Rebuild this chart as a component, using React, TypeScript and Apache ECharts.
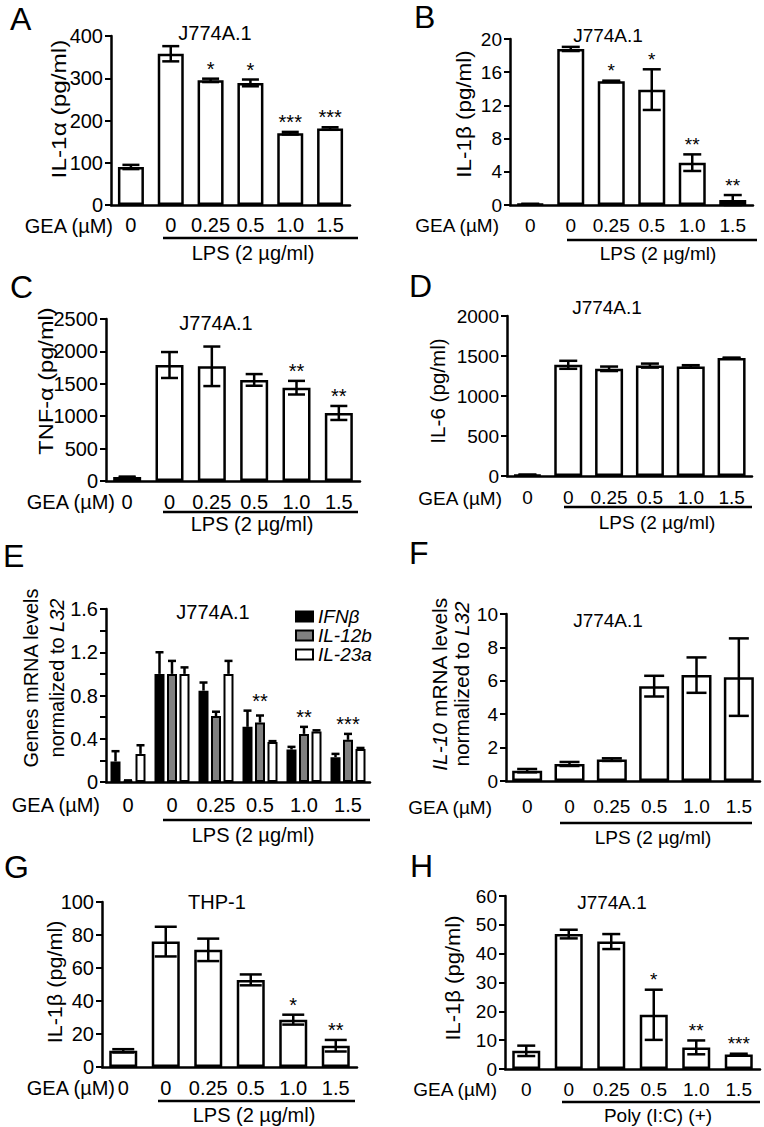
import React, { useEffect, useRef } from "react";
import * as echarts from "echarts";

// ---------------- DATA ----------------
const CATEGORIES = ["0", "0", "0.25", "0.5", "1.0", "1.5"];

const IL1A_MEAN = [90, 358, 295, 289, 170, 181];
const IL1A_SEM = [5, 18, 4, 8, 3, 3];
const IL1A_SIG = ["", "", "*", "*", "***", "***"];

const IL1B_MEAN = [0.1, 18.8, 14.9, 13.9, 5.1, 0.6];
const IL1B_SEM = [0.05, 0.25, 0.08, 2.45, 1.0, 0.6];
const IL1B_SIG = ["", "", "*", "*", "**", "**"];

const TNF_MEAN = [62, 1790, 1770, 1560, 1440, 1050];
const TNF_SEM = [6, 200, 305, 90, 105, 108];
const TNF_SIG = ["", "", "", "", "**", "**"];

const IL6_MEAN = [15, 1390, 1340, 1380, 1370, 1475];
const IL6_SEM = [3, 50, 28, 25, 15, 5];
const IL6_SIG = ["", "", "", "", "", ""];

const GENES = ["IFNβ", "IL-12b", "IL-23a"];
const IFNB_MEAN = [0.19, 1.0, 0.845, 0.51, 0.3, 0.23];
const IFNB_SEM = [0.095, 0.2, 0.075, 0.15, 0.025, 0.03];
const IL12B_MEAN = [0.01, 1.0, 0.61, 0.55, 0.445, 0.39];
const IL12B_SEM = [0.005, 0.12, 0.04, 0.065, 0.065, 0.055];
const IL23A_MEAN = [0.26, 1.0, 1.0, 0.37, 0.468, 0.305];
const IL23A_SEM = [0.08, 0.06, 0.12, 0.008, 0.01, 0.01];
const GENES_SIG = ["", "", "", "**", "**", "***"];

const IL10_MEAN = [0.62, 1.02, 1.28, 5.68, 6.34, 6.22];
const IL10_SEM = [0.1, 0.12, 0.08, 0.62, 1.06, 2.32];
const IL10_SIG = ["", "", "", "", "", ""];

const THP1_MEAN = [9.8, 76, 71, 52.8, 28.7, 12.9];
const THP1_SEM = [1, 9, 6.8, 3.3, 3, 3.5];
const THP1_SIG = ["", "", "", "", "*", "**"];

const POLY_MEAN = [6.3, 46.8, 44.2, 18.8, 7.5, 5.0];
const POLY_SEM = [1.8, 1.5, 2.6, 8.7, 2.4, 0.3];
const POLY_SIG = ["", "", "", "*", "**", "***"];

// ---------------- LAYOUT ----------------
const FONT = "Liberation Sans, Arial, Helvetica, sans-serif";
const LW = 2.5;

type Panel = {
  letter: string;
  letterPos: [number, number];
  title: string;
  titlePos: [number, number];
  yName: string[];
  yNamePos: [number, number][];
  yNameScale: number;
  grid: [number, number, number, number];
  yMax: number;
  yStep: number;
  fs: number;
  barW: number;
  cap: number;
  xMargin: number;
  gea: [number, number];
  bracket: [number, number, number];
  bracketLabel: string;
  bracketLabelPos: [number, number];
  mean: number[];
  sem: number[];
  sig: string[];
  grouped?: boolean;
};

const PANELS: Panel[] = [
  {
    letter: "A", letterPos: [10, 18.5], title: "J774A.1", titlePos: [215, 33],
    yName: ["IL-1α (pg/ml)"], yNamePos: [[59, 109]], yNameScale: 1.22,
    grid: [111, 36, 350, 205], yMax: 400, yStep: 100, fs: 20, barW: 26, cap: 17, xMargin: 9.5,
    gea: [113, 225.5], bracket: [163, 358, 238], bracketLabel: "LPS (2 µg/ml)", bracketLabelPos: [253, 253],
    mean: IL1A_MEAN, sem: IL1A_SEM, sig: IL1A_SIG,
  },
  {
    letter: "B", letterPos: [414, 16.5], title: "J774A.1", titlePos: [608, 35],
    yName: ["IL-1β (pg/ml)"], yNamePos: [[464, 114]], yNameScale: 1.12,
    grid: [510, 39, 753, 205], yMax: 20, yStep: 4, fs: 19, barW: 27, cap: 18, xMargin: 10.5,
    gea: [499, 225], bracket: [567, 757, 240], bracketLabel: "LPS (2 µg/ml)", bracketLabelPos: [658, 253],
    mean: IL1B_MEAN, sem: IL1B_SEM, sig: IL1B_SIG,
  },
  {
    letter: "C", letterPos: [10, 286.5], title: "J774A.1", titlePos: [216, 323],
    yName: ["TNF-α (pg/ml)"], yNamePos: [[46, 381]], yNameScale: 1.18,
    grid: [106, 319, 360, 481], yMax: 2500, yStep: 500, fs: 20, barW: 28, cap: 17, xMargin: 10.5,
    gea: [115, 501.5], bracket: [163, 358, 512], bracketLabel: "LPS (2 µg/ml)", bracketLabelPos: [252, 524],
    mean: TNF_MEAN, sem: TNF_SEM, sig: TNF_SIG,
  },
  {
    letter: "D", letterPos: [409, 286], title: "J774A.1", titlePos: [607, 307],
    yName: ["IL-6 (pg/ml)"], yNamePos: [[438, 391]], yNameScale: 1.03,
    grid: [507, 316, 752, 476], yMax: 2000, yStep: 500, fs: 19, barW: 28, cap: 18, xMargin: 12,
    gea: [502, 498], bracket: [564, 752, 507], bracketLabel: "LPS (2 µg/ml)", bracketLabelPos: [657, 522],
    mean: IL6_MEAN, sem: IL6_SEM, sig: IL6_SIG,
  },
  {
    letter: "E", letterPos: [3, 556], title: "J774A.1", titlePos: [213, 612],
    yName: ["Genes mRNA levels", "normalized to {i|L32}"], yNamePos: [[31, 678], [57, 678]], yNameScale: 1.0,
    grid: [106, 609, 370, 782], yMax: 1.6, yStep: 0.2, fs: 20, barW: 10, cap: 8, xMargin: 13,
    gea: [100, 805], bracket: [163, 370, 820], bracketLabel: "LPS (2 µg/ml)", bracketLabelPos: [253, 835],
    mean: IFNB_MEAN, sem: IFNB_SEM, sig: GENES_SIG, grouped: true,
  },
  {
    letter: "F", letterPos: [409, 553], title: "J774A.1", titlePos: [608, 620],
    yName: ["{i|IL-10} mRNA levels", "normalized to {i|L32}"], yNamePos: [[440, 684], [462, 684]], yNameScale: 1.04,
    grid: [506, 614, 760, 781], yMax: 10, yStep: 2, fs: 19, barW: 30, cap: 20, xMargin: 16,
    gea: [492, 807], bracket: [560, 752, 823], bracketLabel: "LPS (2 µg/ml)", bracketLabelPos: [653, 837],
    mean: IL10_MEAN, sem: IL10_SEM, sig: IL10_SIG,
  },
  {
    letter: "G", letterPos: [4, 867], title: "THP-1", titlePos: [217, 902],
    yName: ["IL-1β (pg/ml)"], yNamePos: [[55, 982]], yNameScale: 1.08,
    grid: [102, 902, 357, 1067], yMax: 100, yStep: 20, fs: 20, barW: 28, cap: 22, xMargin: 11,
    gea: [115, 1088], bracket: [158, 355, 1101], bracketLabel: "LPS (2 µg/ml)", bracketLabelPos: [254, 1115],
    mean: THP1_MEAN, sem: THP1_SEM, sig: THP1_SIG,
  },
  {
    letter: "H", letterPos: [410, 866], title: "J774A.1", titlePos: [612, 902],
    yName: ["IL-1β (pg/ml)"], yNamePos: [[453, 978]], yNameScale: 1.1,
    grid: [505, 896, 760, 1069], yMax: 60, yStep: 10, fs: 19, barW: 28, cap: 18, xMargin: 10.5,
    gea: [497, 1089], bracket: [562, 760, 1102], bracketLabel: "Poly (I:C) (+)", bracketLabelPos: [658, 1115],
    mean: POLY_MEAN, sem: POLY_SEM, sig: POLY_SIG,
  },
];

function textEl(x: number, y: number, text: string, fs: number, opts: any = {}) {
  const style: any = {
    text,
    fontSize: fs,
    fontFamily: FONT,
    fontStyle: opts.fontStyle || "normal",
    fill: "#000",
    textAlign: opts.align || "center",
    textVerticalAlign: "middle",
    rich: {
      i: { fontStyle: "italic", fontSize: fs, fontFamily: FONT, fill: "#000" },
    },
  };
  if (opts.lineHeight) style.lineHeight = opts.lineHeight;
  return {
    type: "text",
    x,
    y,
    rotation: opts.rotation || 0,
    scaleX: opts.scaleX || 1,
    silent: true,
    style,
  };
}

function errSeries(
  gi: number, mean: number[], sem: number[], cap: number, offset: number, upOnly: boolean
) {
  return {
    type: "custom",
    xAxisIndex: gi,
    yAxisIndex: gi,
    z: 10,
    silent: true,
    clip: false,
    data: mean.map((m, i) => [i, m + sem[i], upOnly ? m : Math.max(0, m - sem[i])]),
    encode: { x: 0, y: [1, 2] },
    renderItem: (params: any, api: any) => {
      const i = params.dataIndex;
      const m = mean[i];
      const e = sem[i];
      const pTop = api.coord([i, m + e]);
      const pBot = api.coord([i, upOnly ? m : Math.max(0, m - e)]);
      const x = pTop[0] + offset;
      const st = { stroke: "#000", lineWidth: LW };
      const children: any[] = [
        { type: "line", shape: { x1: x, y1: pTop[1], x2: x, y2: pBot[1] }, style: st },
        { type: "line", shape: { x1: x - cap / 2, y1: pTop[1], x2: x + cap / 2, y2: pTop[1] }, style: st },
      ];
      if (!upOnly) {
        children.push({
          type: "line",
          shape: { x1: x - cap / 2, y1: pBot[1], x2: x + cap / 2, y2: pBot[1] },
          style: st,
        });
      }
      return { type: "group", children };
    },
  };
}

function sigSeries(gi: number, tops: number[], sig: string[], fs: number) {
  return {
    type: "custom",
    xAxisIndex: gi,
    yAxisIndex: gi,
    z: 11,
    silent: true,
    clip: false,
    data: tops.map((t, i) => [i, t]),
    encode: { x: 0, y: 1 },
    renderItem: (params: any, api: any) => {
      const i = params.dataIndex;
      if (!sig[i]) return null;
      const p = api.coord([i, tops[i]]);
      return {
        type: "text",
        x: p[0],
        y: p[1] - 10,
        style: {
          text: sig[i],
          fontSize: fs,
          fontFamily: FONT,
          fill: "#000",
          textAlign: "center",
          textVerticalAlign: "middle",
        },
      };
    },
  };
}

function buildOption() {
  const grid: any[] = [];
  const xAxis: any[] = [];
  const yAxis: any[] = [];
  const series: any[] = [];
  const graphic: any[] = [];

  PANELS.forEach((p, gi) => {
    const [l, t, r, b] = p.grid;
    grid.push({ left: l, top: t, width: r - l, height: b - t, containLabel: false });
    xAxis.push({
      type: "category",
      gridIndex: gi,
      data: CATEGORIES,
      axisLine: { lineStyle: { color: "#000", width: LW } },
      axisTick: { alignWithLabel: true, length: 5, lineStyle: { color: "#000", width: 2 } },
      axisLabel: { interval: 0, fontSize: p.fs, fontFamily: FONT, color: "#000", margin: p.xMargin },
      splitLine: { show: false },
    });
    const isE = p.grouped;
    yAxis.push({
      type: "value",
      gridIndex: gi,
      min: 0,
      max: p.yMax,
      interval: p.yStep,
      axisLine: { show: true, lineStyle: { color: "#000", width: LW } },
      axisTick: { show: true, length: 6, lineStyle: { color: "#000", width: 2 } },
      splitLine: { show: false },
      axisLabel: {
        fontSize: p.fs,
        fontFamily: FONT,
        color: "#000",
        margin: 8,
        formatter: isE
          ? (v: number) => {
              const tt = Math.round(v * 10);
              if (tt % 4 !== 0) return "";
              return tt === 0 ? "0" : (tt / 10).toFixed(1);
            }
          : (v: number) => String(v),
      },
    });

    if (isE) {
      const means = [IFNB_MEAN, IL12B_MEAN, IL23A_MEAN];
      const sems = [IFNB_SEM, IL12B_SEM, IL23A_SEM];
      const colors = ["#000000", "#808080", "#ffffff"];
      const offsets = [-12.5, 0, 12.5];
      means.forEach((m, k) => {
        series.push({
          type: "bar",
          name: GENES[k],
          xAxisIndex: gi,
          yAxisIndex: gi,
          data: m,
          barWidth: p.barW,
          barGap: "25%",
          silent: true,
          itemStyle: { color: colors[k], borderColor: "#000", borderWidth: 2 },
        });
      });
      means.forEach((m, k) => {
        series.push(errSeries(gi, m, sems[k], p.cap, offsets[k], true));
      });
      const tops = CATEGORIES.map((_, i) =>
        Math.max(...means.map((m, k) => m[i] + sems[k][i]))
      );
      series.push(sigSeries(gi, tops, p.sig, p.fs));
    } else {
      series.push({
        type: "bar",
        name: "panel" + p.letter,
        xAxisIndex: gi,
        yAxisIndex: gi,
        data: p.mean,
        barWidth: p.barW,
        silent: true,
        itemStyle: { color: "#ffffff", borderColor: "#000", borderWidth: LW },
      });
      series.push(errSeries(gi, p.mean, p.sem, p.cap, 0, false));
      series.push(sigSeries(gi, p.mean.map((m, i) => m + p.sem[i]), p.sig, p.fs));
    }

    // texts
    graphic.push(textEl(p.letterPos[0], p.letterPos[1], p.letter, 32, { align: "left" }));
    graphic.push(textEl(p.titlePos[0], p.titlePos[1], p.title, p.fs));
    p.yName.forEach((line, k) => {
      graphic.push(
        textEl(p.yNamePos[k][0], p.yNamePos[k][1], line, 20, {
          rotation: Math.PI / 2,
          scaleX: p.yNameScale,
        })
      );
    });
    graphic.push(textEl(p.gea[0], p.gea[1], "GEA (µM)", p.fs, { align: "right" }));
    graphic.push({
      type: "line",
      silent: true,
      shape: { x1: p.bracket[0], y1: p.bracket[2], x2: p.bracket[1], y2: p.bracket[2] },
      style: { stroke: "#000", lineWidth: LW },
    });
    graphic.push(textEl(p.bracketLabelPos[0], p.bracketLabelPos[1], p.bracketLabel, p.fs));
  });

  return {
    animation: false,
    backgroundColor: "#ffffff",
    grid,
    xAxis,
    yAxis,
    series,
    graphic: { elements: graphic },
    legend: {
      show: true,
      data: GENES,
      left: 290,
      top: 602,
      orient: "vertical",
      icon: "rect",
      itemWidth: 17,
      itemHeight: 10,
      itemGap: 0,
      selectedMode: false,
      textStyle: {
        fontStyle: "italic",
        fontSize: 19,
        fontFamily: FONT,
        color: "#000",
        lineHeight: 19,
      },
    },
  };
}

export default function App() {
  const ref = useRef<HTMLDivElement>(null);
  useEffect(() => {
    if (!ref.current) return;
    const chart = echarts.init(ref.current, undefined, { renderer: "svg" });
    chart.setOption(buildOption() as any);
    return () => chart.dispose();
  }, []);
  return (
    <div
      ref={ref}
      style={{ position: "absolute", left: 0, top: 0, width: 764, height: 1127, background: "#fff" }}
    />
  );
}
